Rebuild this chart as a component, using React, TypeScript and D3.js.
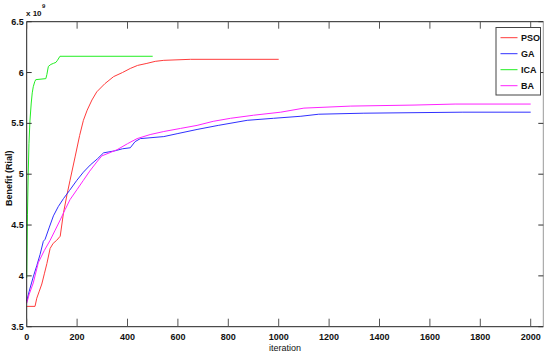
import React, { useEffect, useRef } from "react";
import * as d3 from "d3";

// iteration, benefit (x 10^9)
const psoData: [number, number][] = [
  [0, 3.7], [33, 3.7], [40, 3.78], [50, 3.85], [60, 3.92], [70, 4.02], [80, 4.12], [93, 4.27],
  [105, 4.32], [119, 4.35], [133, 4.39], [146, 4.62], [160, 4.8], [172, 4.94], [192, 5.17],
  [210, 5.38], [225, 5.53], [240, 5.63], [259, 5.73], [278, 5.81], [310, 5.89], [345, 5.96],
  [380, 6.0], [411, 6.04], [440, 6.07], [477, 6.09], [510, 6.11], [544, 6.12], [650, 6.13],
  [1000, 6.13],
];
const gaData: [number, number][] = [
  [0, 3.75], [10, 3.85], [26, 3.99], [40, 4.1], [53, 4.21], [66, 4.34], [73, 4.36], [90, 4.48],
  [106, 4.59], [125, 4.68], [146, 4.76], [170, 4.84], [199, 4.94], [225, 5.02], [252, 5.09],
  [280, 5.15], [305, 5.21], [350, 5.23], [380, 5.25], [411, 5.26], [430, 5.32], [451, 5.35],
  [544, 5.37], [600, 5.4], [676, 5.44], [760, 5.48], [875, 5.53], [980, 5.55], [1088, 5.57],
  [1159, 5.59], [1338, 5.6], [1731, 5.61], [2000, 5.61],
];
const icaData: [number, number][] = [
  [0, 3.98], [3, 4.6], [6, 5.0], [9, 5.3], [13, 5.53], [18, 5.7], [22, 5.8], [26, 5.86],
  [32, 5.91], [36, 5.93], [76, 5.94], [80, 5.98], [86, 6.06], [96, 6.08], [106, 6.09],
  [116, 6.1], [122, 6.12], [132, 6.16], [500, 6.16],
];
const baData: [number, number][] = [
  [0, 3.73], [10, 3.82], [26, 3.93], [46, 4.13], [70, 4.25], [93, 4.35], [113, 4.45],
  [133, 4.55], [152, 4.65], [172, 4.75], [200, 4.85], [225, 4.94], [250, 5.03], [278, 5.12],
  [298, 5.18], [358, 5.24], [400, 5.3], [438, 5.35], [490, 5.39], [544, 5.42], [610, 5.45],
  [676, 5.48], [740, 5.52], [809, 5.55], [900, 5.58], [1008, 5.61], [1100, 5.65], [1286, 5.67],
  [1537, 5.68], [1700, 5.69], [2000, 5.69],
];

const seriesNames = ["PSO", "GA", "ICA", "BA"];
const seriesColors = ["#ff3b3b", "#3030ff", "#22ee22", "#ff22ff"];
const seriesData = [psoData, gaData, icaData, baData];

const xTicks = [0, 200, 400, 600, 800, 1000, 1200, 1400, 1600, 1800, 2000];
const yTicks = [3.5, 4, 4.5, 5, 5.5, 6, 6.5];

const App = () => {
  const ref = useRef<SVGSVGElement>(null);

  useEffect(() => {
    const svg = d3.select(ref.current);
    svg.selectAll("*").remove();

    const left = 26.7, right = 543.3, top = 21.7, bottom = 326.7;
    const x = d3.scaleLinear().domain([0, 2050]).range([left, right]);
    const y = d3.scaleLinear().domain([3.5, 6.5]).range([bottom, top]);
    const font = "'Liberation Sans', Arial, sans-serif";

    svg.append("rect").attr("width", 550).attr("height", 359).attr("fill", "#fff");

    const line = d3.line<[number, number]>().x((d) => x(d[0])).y((d) => y(d[1]));
    seriesData.forEach((s, i) => {
      svg.append("path")
        .attr("d", line(s))
        .attr("fill", "none")
        .attr("stroke", seriesColors[i])
        .attr("stroke-width", 1);
    });

    // box
    svg.append("path")
      .attr("d", `M${left},${top}H${right}`)
      .attr("stroke", "#222").attr("stroke-width", 1);
    svg.append("path")
      .attr("d", `M${left},${top}V${bottom}H${right}`)
      .attr("stroke", "#222").attr("fill", "none").attr("stroke-width", 1);
    svg.append("path")
      .attr("d", `M${right},${top}V${bottom}`)
      .attr("stroke", "#999").attr("stroke-width", 1);

    const g = svg.append("g").attr("font-family", font).attr("font-weight", "bold").attr("font-size", 9);

    xTicks.forEach((t) => {
      g.append("line").attr("x1", x(t)).attr("x2", x(t)).attr("y1", bottom).attr("y2", bottom - 8).attr("stroke", "#555");
      g.append("line").attr("x1", x(t)).attr("x2", x(t)).attr("y1", top).attr("y2", top + 7).attr("stroke", "#555");
      g.append("text").attr("x", x(t)).attr("y", bottom + 13).attr("text-anchor", "middle").attr("fill", "#111").text(t);
    });
    yTicks.forEach((t) => {
      g.append("line").attr("x1", left).attr("x2", left + 5).attr("y1", y(t)).attr("y2", y(t)).attr("stroke", "#333");
      g.append("line").attr("x1", right).attr("x2", right - 5).attr("y1", y(t)).attr("y2", y(t)).attr("stroke", "#333");
      g.append("text").attr("x", left - 3).attr("y", y(t) + 3).attr("text-anchor", "end").attr("fill", "#111").text(t);
    });

    g.append("text").attr("x", 26).attr("y", 16).attr("fill", "#111").attr("font-size", 8).text("x 10");
    g.append("text").attr("x", 42).attr("y", 8).attr("fill", "#111").attr("font-size", 6).text("9");

    g.append("text").attr("x", x(1025)).attr("y", 351).attr("text-anchor", "middle")
      .attr("font-weight", "normal").attr("fill", "#111").text("iteration");
    g.append("text").attr("transform", `translate(12,${(top + bottom) / 2 + 4}) rotate(-90)`)
      .attr("text-anchor", "middle").attr("fill", "#111").text("Benefit (Rial)");

    // legend
    const lg = g.append("g");
    lg.append("rect").attr("x", 496).attr("y", 27.5).attr("width", 44.5).attr("height", 67.5)
      .attr("fill", "#fff").attr("stroke", "#444");
    seriesNames.forEach((n, i) => {
      const ly = 37.7 + i * 16;
      lg.append("line").attr("x1", 500.5).attr("x2", 517.5).attr("y1", ly).attr("y2", ly).attr("stroke", seriesColors[i]);
      lg.append("text").attr("x", 521).attr("y", ly + 3.2).attr("fill", "#111").text(n);
    });
  }, []);

  return <svg ref={ref} width={550} height={359} style={{ position: "absolute", left: 0, top: 0 }} />;
};

export default App;
